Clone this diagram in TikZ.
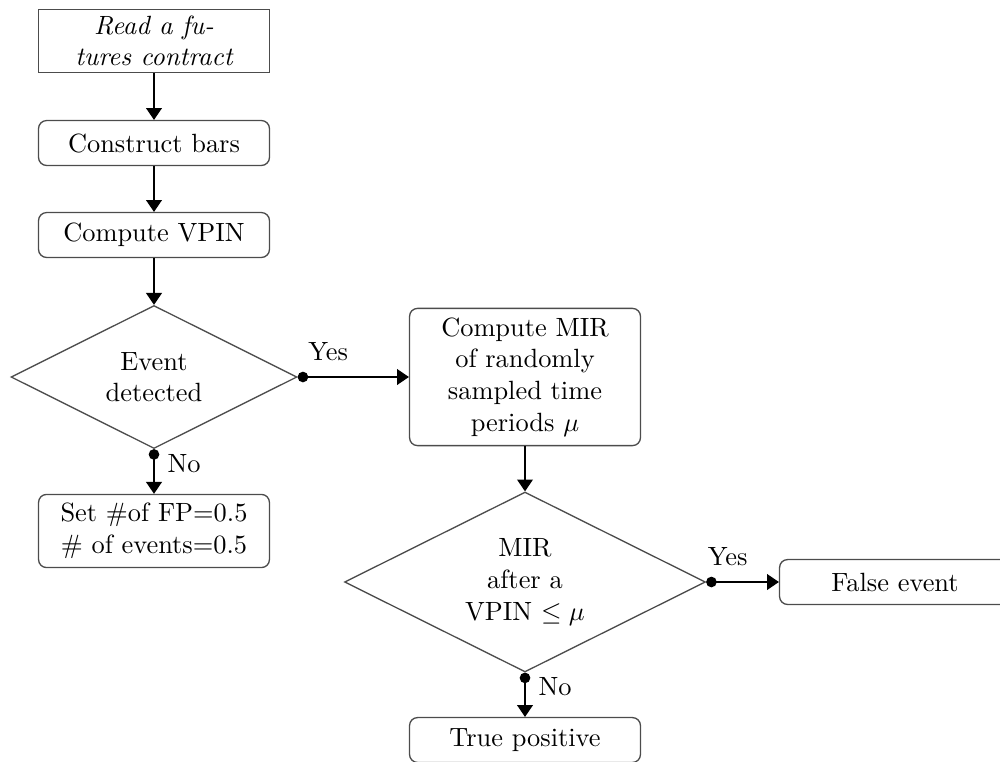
\documentclass[tikz,border=0pt]{standalone}
\usetikzlibrary{shapes.geometric,arrows.meta}
\begin{document}
\begin{tikzpicture}[x=0.379pt,y={(0pt,-0.379pt)},
 box/.style={draw=black!70, line width=0.5pt, rounded corners=3pt, minimum width=87.5pt, minimum height=17pt, align=center, inner sep=2pt},
 plainbox/.style={draw=black!70, line width=0.5pt, minimum width=87.5pt, minimum height=24pt, align=center, inner sep=2pt},
 decision/.style={diamond, draw=black!70, line width=0.5pt, shape aspect=2, inner sep=0pt, align=center},
 flow/.style={draw=black, line width=0.5pt, -{Triangle[length=4.5pt,width=6pt]}},
 branch/.style={draw=black, line width=0.5pt, {Circle[length=4pt]}-{Triangle[length=4.5pt,width=6pt]}},
 lbl/.style={inner sep=1pt}]
\useasboundingbox (0,0) rectangle (1000,761);
\clip (0,0) rectangle (1000,761);

\node[plainbox, font=\itshape] (b1) at (154,41) {Read a fu-\\tures contract};
\node[box] (b2) at (154,143) {Construct bars};
\node[box] (b3) at (154,235) {Compute VPIN};
\node[decision, minimum width=108.4pt, minimum height=54.2pt] (d1) at (154,377) {Event\\detected};
\node[box, minimum height=27.7pt] (fp) at (154,531) {Set \#of FP=0.5\\\# of events=0.5};
\node[box, minimum height=52pt] (b4) at (525,377) {Compute MIR\\of randomly\\sampled time\\periods $\mu$};
\node[decision, minimum width=136.8pt, minimum height=68.2pt] (d2) at (525,582) {MIR\\after a\\VPIN $\leq\mu$};
\node[box] (fe) at (895,582) {False event};
\node[box] (tp) at (525,740) {True positive};

\draw[flow] (b1.south) -- (b2.north);
\draw[flow] (b2.south) -- (b3.north);
\draw[flow] (b3.south) -- (d1.north);
\draw[branch] (d1.east) -- node[lbl, at start, anchor=south west, xshift=2.8pt, yshift=4.8pt] {Yes} (b4.west);
\draw[branch] (d1.south) -- node[lbl, at start, anchor=west, xshift=3.9pt, yshift=-5.3pt] {No} (fp.north);
\draw[flow] (b4.south) -- (d2.north);
\draw[branch] (d2.east) -- node[lbl, at start, anchor=south west, xshift=-0.6pt, yshift=5pt] {Yes} (fe.west);
\draw[branch] (d2.south) -- node[lbl, at start, anchor=west, xshift=3.9pt, yshift=-5.3pt] {No} (tp.north);
\end{tikzpicture}
\end{document}
